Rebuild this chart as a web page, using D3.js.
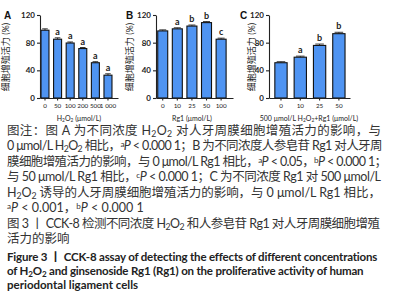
<!DOCTYPE html>
<html>
<head>
<meta charset="utf-8">
<script src="https://cdn.jsdelivr.net/npm/d3@7"></script>
<style>
  body { margin: 0; background: #fff; }
  svg { display: block; }
</style>
</head>
<body>
<div id="chart"></div>
<script>
// panel A: H2O2
let h2o2Doses = ['0', '50', '100', '200', '500', '1 000'];
let h2o2Values = [98, 85, 79.5, 71.5, 51, 33];
let h2o2Errors = [2, 2, 1.5, 1.5, 1.5, 2];
let h2o2Marks = ['', 'a', 'a', 'a', 'a', 'a'];

// panel B: Rg1
let rg1Doses = ['0', '10', '25', '50', '100'];
let rg1Values = [97, 100, 104, 109, 85];
let rg1Errors = [1.5, 1.5, 1.5, 1.5, 1.5];
let rg1Marks = ['', 'a', 'b', 'b', 'c'];

// panel C: 500 umol/L H2O2 + Rg1
let comboDoses = ['0', '10', '25', '50'];
let comboValues = [51, 59, 76, 93];
let comboErrors = [1.5, 1.5, 2, 2];
let comboMarks = ['', 'a', 'b', 'b'];

let yTicks = [0, 40, 80, 120];

// caption lines  (_2 = subscript, ^a = superscript, ~P~ = italic)
let noteLines = [
  '图注：图 A 为不同浓度 H_2O_2 对人牙周膜细胞增殖活力的影响，与',
  '0 μmol/L H_2O_2 相比，^a~P~ < 0.000 1；B 为不同浓度人参皂苷 Rg1 对人牙周',
  '膜细胞增殖活力的影响，与 0 μmol/L Rg1 相比，^a~P~ < 0.05，^b~P~ < 0.000 1；',
  '与 50 μmol/L Rg1 相比，^c~P~ < 0.000 1；C 为不同浓度 Rg1 对 500 μmol/L',
  'H_2O_2 诱导的人牙周膜细胞增殖活力的影响，与 0 μmol/L Rg1 相比，',
  '^a~P~ < 0.001，^b~P~ < 0.000 1'
];
let titleCn = ['图 3 丨 CCK-8 检测不同浓度 H_2O_2 和人参皂苷 Rg1 对人牙周膜细胞增殖', '活力的影响'];
let titleEn = [
  'Figure 3 丨 CCK-8 assay of detecting the effects of different concentrations',
  'of H_2O_2 and ginsenoside Rg1 (Rg1) on the proliferative activity of human',
  'periodontal ligament cells'
];

let width = 400, height = 300;
const svg = d3.select('#chart').append('svg')
  .attr('width', width)
  .attr('height', height);

let y = d3.scaleLinear().domain([0, 120]).range([98, 15]);

let font = "Lato, 'Noto Sans CJK SC', sans-serif";

// write a marked-up string into a text element
function richText(t, str) {
  let parts = str.split(/(_\d|\^[a-c]|~[^~]+~)/).filter(s => s !== '');
  parts.forEach(p => {
    if (p[0] === '_') {
      t.append('tspan').attr('font-size', '70%').attr('baseline-shift', '-22%').text(p.slice(1));
    } else if (p[0] === '^') {
      t.append('tspan').attr('font-size', '65%').attr('baseline-shift', '40%').text(p.slice(1));
    } else if (p[0] === '~') {
      t.append('tspan').attr('font-style', 'italic').text(p.slice(1, -1));
    } else {
      t.append('tspan').text(p);
    }
  });
  return t;
}

function panel(opt) {
  let x = d3.scaleBand()
    .domain(opt.doses)
    .range(opt.range)
    .paddingInner(opt.pi)
    .paddingOuter(opt.po)
    .align(opt.align);

  let g = svg.append('g');

  // bars
  g.selectAll('rect').data(opt.values).join('rect')
    .attr('x', (d, i) => x(opt.doses[i]))
    .attr('y', d => y(d))
    .attr('width', x.bandwidth())
    .attr('height', d => y(0) - y(d))
    .attr('fill', '#4f94f2')
    .attr('stroke', '#111')
    .attr('stroke-width', 1.1);

  // error bars
  let cx = (i) => x(opt.doses[i]) + x.bandwidth() / 2;
  let cap = x.bandwidth() * 0.35;
  opt.values.forEach((v, i) => {
    g.append('line')
      .attr('x1', cx(i)).attr('x2', cx(i))
      .attr('y1', y(v)).attr('y2', y(v + opt.errors[i]))
      .attr('stroke', '#222').attr('stroke-width', 0.9);
    g.append('line')
      .attr('x1', cx(i) - cap).attr('x2', cx(i) + cap)
      .attr('y1', y(v + opt.errors[i])).attr('y2', y(v + opt.errors[i]))
      .attr('stroke', '#222').attr('stroke-width', 0.9);
  });

  // significance letters
  g.selectAll('text.mark').data(opt.marks).join('text')
    .attr('class', 'mark')
    .attr('x', (d, i) => cx(i))
    .attr('y', (d, i) => y(opt.values[i] + opt.errors[i]) - 3)
    .attr('text-anchor', 'middle')
    .attr('font-family', font)
    .attr('font-size', 9)
    .attr('font-weight', 'bold')
    .attr('fill', '#222')
    .text(d => d);

  // axes
  g.append('g')
    .attr('transform', `translate(0, ${y(0)})`)
    .call(d3.axisBottom(x).tickSize(2.5).tickSizeOuter(0).tickPadding(3))
    .call(a => a.selectAll('text').attr('font-size', 6.3).attr('font-family', font).attr('fill', '#222'))
    .call(a => a.selectAll('line, path').attr('stroke', '#222').attr('stroke-width', 1.1));

  g.append('g')
    .attr('transform', `translate(${opt.range[0]}, 0)`)
    .call(d3.axisLeft(y).tickValues(yTicks).tickSize(3).tickSizeOuter(0).tickPadding(2))
    .call(a => a.selectAll('text').attr('font-size', 8).attr('font-weight', 'bold').attr('font-family', font).attr('fill', '#222'))
    .call(a => a.selectAll('line, path').attr('stroke', '#222').attr('stroke-width', 1.1));

  // y label
  svg.append('text')
    .attr('transform', `translate(${opt.ylabX}, 57) rotate(-90)`)
    .attr('text-anchor', 'middle')
    .attr('font-family', font)
    .attr('font-size', 9)
    .attr('fill', '#222')
    .text('细胞增殖活力 (%)');

  // panel letter
  svg.append('text')
    .attr('x', opt.letterX).attr('y', 19)
    .attr('font-family', "'Liberation Sans', Arial, sans-serif")
    .attr('font-size', 10)
    .attr('font-weight', 'bold')
    .attr('fill', '#111')
    .text(opt.letter);

  // x title
  richText(svg.append('text')
    .attr('x', opt.titleX).attr('y', 121)
    .attr('text-anchor', 'middle')
    .attr('font-family', font)
    .attr('font-size', 7)
    .attr('fill', '#222'), opt.title);
}

panel({
  doses: h2o2Doses, values: h2o2Values, errors: h2o2Errors, marks: h2o2Marks,
  range: [40, 118], pi: 0.365, po: 0.278, align: 0.14,
  ylabX: 9, letterX: 4, letter: 'A', titleX: 79, title: 'H_2O_2 (μmol/L)'
});
panel({
  doses: rg1Doses, values: rg1Values, errors: rg1Errors, marks: rg1Marks,
  range: [156, 233], pi: 0.315, po: 0.295, align: 0.2,
  ylabX: 133, letterX: 126, letter: 'B', titleX: 192, title: 'Rg1 (μmol/L)'
});
panel({
  doses: comboDoses, values: comboValues, errors: comboErrors, marks: comboMarks,
  range: [269, 350], pi: 0.363, po: 0.28, align: 0.54,
  ylabX: 255, letterX: 240, letter: 'C', titleX: 309, title: '500 μmol/L H_2O_2+Rg1 (μmol/L)'
});

// caption block
function captionLine(str, yPos, opts) {
  let t = svg.append('text')
    .attr('x', 7).attr('y', yPos)
    .attr('font-family', font)
    .attr('font-size', opts.size)
    .attr('font-weight', opts.weight || 'normal')
    .attr('fill', opts.color);
  richText(t, str);
  if (opts.justify) {
    let w = t.node().getComputedTextLength();
    let n = t.text().length;
    let extra = (opts.justify - 7 - w) / Math.max(1, n - 1);
    t.attr('letter-spacing', Math.max(-0.6, Math.min(2, extra)));
  }
  return t;
}

noteLines.forEach((s, i) => {
  captionLine(s, 135 + i * 15.4, {
    size: 12.5, color: '#333',
    justify: i < noteLines.length - 1 ? 381 : null
  });
});
titleCn.forEach((s, i) => {
  captionLine(s, 228 + i * 15.4, { size: 12.5, color: '#333', justify: i === 0 ? 380 : null });
});
titleEn.forEach((s, i) => {
  captionLine(s, 261 + i * 14.2, { size: 11.5, color: '#222', weight: 'bold', justify: i === 0 ? 377 : (i === 1 ? 364 : null) });
});
</script>
</body>
</html>
